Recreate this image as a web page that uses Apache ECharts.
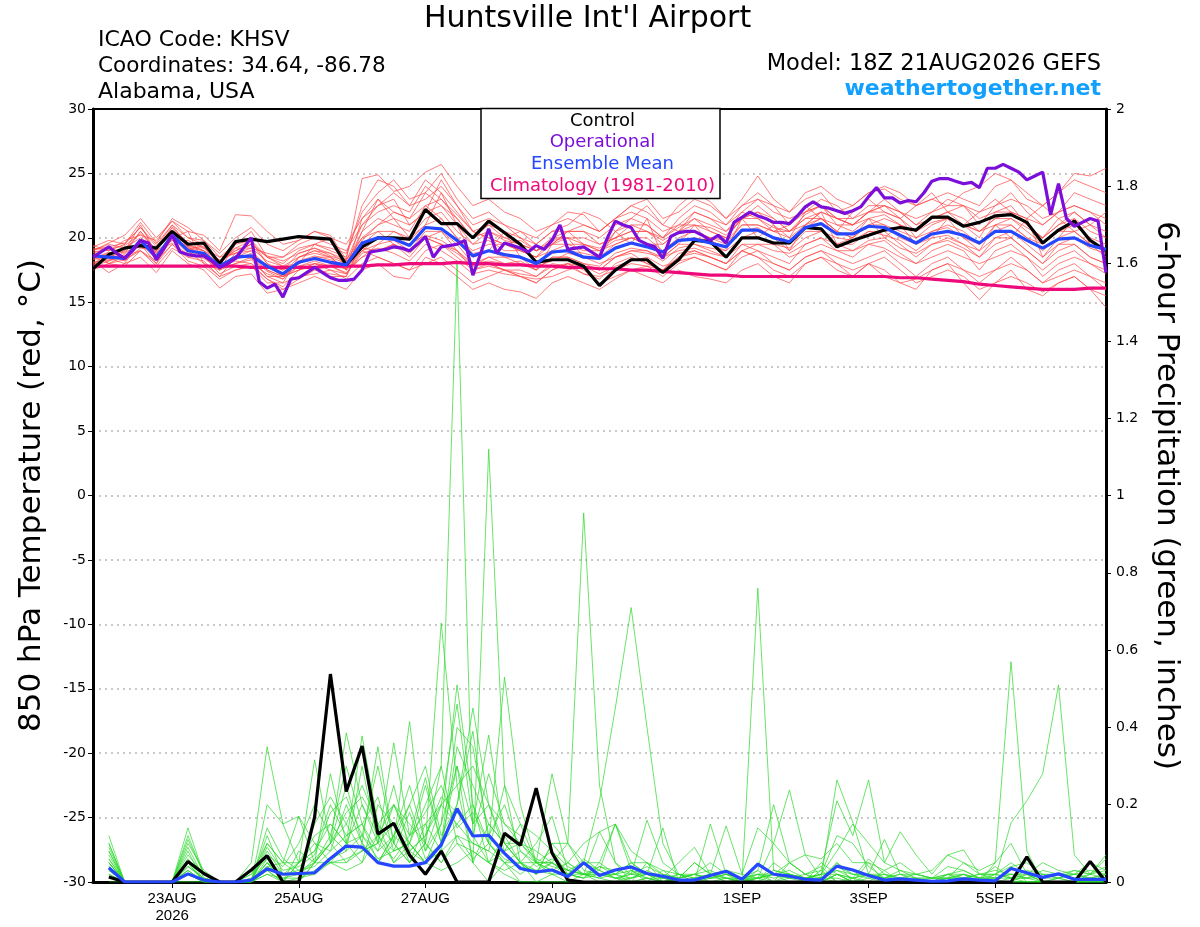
<!DOCTYPE html>
<html><head><meta charset="utf-8">
<script src="https://cdn.jsdelivr.net/npm/echarts@6/dist/echarts.min.js"></script>
<style>html,body{margin:0;padding:0;background:#fff}#c{width:1200px;height:927px}</style>
</head><body><div id="c"></div>
<script>
// ---- axis ticks (hours since 21AUG2026 18Z) ----
const xTickHours = [30, 78, 126, 174, 246, 294, 342];
const xTickLabels = ['23AUG\n2026', '25AUG', '27AUG', '29AUG', '1SEP', '3SEP', '5SEP'];

// ---- 850 hPa temperature, 6-hourly from 21AUG 18Z ----
const controlTemp = [17.6,18.7,19.2,19.4,19.2,20.5,19.5,19.6,18.0,19.7,19.9,19.7,19.9,20.1,20.0,19.9,17.9,19.3,20.0,20.0,19.9,22.2,21.1,21.1,20.0,21.3,20.4,19.5,18.1,18.3,18.3,17.8,16.3,17.5,18.3,18.3,17.3,18.3,19.8,19.7,18.5,20.0,20.0,19.6,19.6,20.8,20.7,19.3,19.8,20.2,20.6,20.8,20.6,21.6,21.6,20.9,21.2,21.7,21.8,21.2,19.6,20.6,21.3,19.8,19.0];
const meanTemp = [18.6,18.5,18.4,19.8,18.5,20.2,19.0,18.8,17.8,18.5,18.6,17.8,17.2,18.1,18.4,18.1,17.9,19.6,20.0,19.9,19.4,20.8,20.7,19.8,18.6,19.0,18.7,18.5,18.0,18.9,19.0,18.5,18.4,19.2,19.6,19.3,18.9,19.8,19.9,19.6,19.3,20.6,20.6,20.0,19.7,20.8,21.1,20.3,20.3,20.9,20.8,20.2,19.6,20.3,20.5,20.2,19.6,20.5,20.5,19.8,19.2,19.9,20.0,19.4,19.1];
const climoTemp = [17.8,17.8,17.8,17.8,17.8,17.8,17.8,17.8,17.8,17.8,17.7,17.7,17.7,17.7,17.7,17.8,17.8,17.8,17.9,17.9,18.0,18.0,18.0,18.1,18.0,18.0,17.9,17.9,17.8,17.8,17.7,17.7,17.6,17.6,17.5,17.5,17.4,17.3,17.2,17.1,17.1,17.0,17.0,17.0,17.0,17.0,17.0,17.0,17.0,17.0,17.0,16.9,16.9,16.8,16.7,16.6,16.4,16.3,16.2,16.1,16.0,16.0,16.0,16.1,16.1];
// operational run, 3-hourly
const operTemp3h = [18.5,18.9,19.3,18.8,18.4,19.0,19.8,19.6,18.3,19.2,
  20.2,18.9,18.7,18.6,18.6,18.2,17.7,18.0,18.4,19.2,
  20.0,16.6,16.1,16.4,15.4,16.8,16.9,17.3,17.7,17.3,
  16.9,16.7,16.7,16.8,17.5,18.9,19.0,19.1,19.3,19.2,
  19.0,19.5,20.1,18.5,19.3,19.4,19.5,19.8,17.1,18.8,
  20.7,18.8,19.6,19.4,19.2,18.9,19.4,19.1,19.8,21.0,
  19.1,19.2,19.3,18.9,18.5,20.0,21.3,21.0,20.8,19.8,
  19.5,19.3,18.4,20.1,20.4,20.5,20.5,20.2,19.8,20.2,
  19.6,21.2,21.6,22.0,21.7,21.5,21.2,21.2,21.1,21.7,
  22.4,22.8,22.4,22.3,22.1,21.9,22.1,22.4,23.2,23.9,
  23.1,23.1,22.7,22.9,22.8,23.5,24.4,24.6,24.6,24.4,
  24.2,24.3,23.9,25.4,25.4,25.7,25.4,25.1,24.5,24.8,
  25.1,21.8,24.2,21.5,20.9,21.2,21.5,21.3,17.3];
// ensemble members (temperature)
const memT01 = [19.0,19.6,20.2,21.5,20.0,21.3,20.5,20.2,19.0,21.8,21.7,20.5,19.5,19.8,20.5,20.2,18.3,24.6,24.9,23.6,24.0,25.1,25.7,24.0,22.5,23.0,22.0,21.5,20.5,21.0,22.0,21.8,20.5,21.5,22.5,22.0,21.0,22.5,23.5,22.8,21.5,23.0,24.8,23.0,22.0,23.0,23.5,22.0,22.5,23.5,23.8,23.0,22.5,23.0,22.5,23.5,24.0,25.0,24.5,23.0,22.5,23.5,25.0,24.8,25.4];
const memT02 = [18.2,17.3,18.0,18.5,17.3,19.0,18.0,17.5,16.1,17.0,17.2,15.7,16.0,16.5,17.0,16.5,16.0,17.5,18.0,17.0,16.8,18.5,18.0,17.0,16.0,16.5,16.0,15.8,15.3,16.5,17.0,16.5,16.0,16.8,17.5,17.0,16.5,17.5,17.0,16.8,16.5,17.5,18.0,17.0,16.5,18.0,18.5,17.5,17.0,18.0,17.5,16.5,16.0,17.5,18.0,16.5,15.2,16.5,17.5,16.0,15.5,16.5,17.0,16.0,14.6];
const memT03 = [18.8,19.2,18.8,20.5,19.0,20.8,19.5,19.0,17.5,18.0,18.5,17.0,16.5,18.5,19.0,18.5,17.5,21.5,22.5,23.0,21.0,22.0,24.5,22.5,20.5,20.0,19.5,19.0,18.5,20.0,20.5,19.5,19.0,20.5,21.0,20.5,19.5,20.5,21.5,20.5,20.0,21.5,22.0,21.0,20.0,22.0,22.5,21.0,21.0,22.0,22.5,21.5,20.0,21.0,21.5,21.0,20.0,22.0,22.5,21.0,20.0,21.5,22.0,21.0,20.5];
const memT04 = [18.5,18.0,17.8,19.0,18.2,19.5,18.5,18.6,17.2,17.8,18.0,16.8,16.2,17.5,17.8,17.0,17.0,19.5,20.5,19.5,18.5,20.0,19.5,18.5,17.5,17.8,17.5,17.0,16.5,17.5,18.0,17.2,16.8,18.0,18.5,18.0,17.5,18.8,19.0,18.5,18.0,19.5,19.0,18.5,18.0,19.5,20.0,19.0,18.5,19.5,19.8,18.8,18.0,19.0,19.5,19.0,17.5,19.0,19.5,18.5,17.5,18.5,19.0,18.0,17.2];
const memT05 = [19.2,19.0,19.5,20.8,19.5,21.0,20.0,19.8,18.5,19.5,19.8,18.5,18.0,19.0,19.5,19.2,18.8,22.0,23.5,24.5,23.0,23.5,22.5,21.0,19.5,20.5,20.0,20.5,19.5,20.5,21.0,22.0,21.5,20.5,21.5,22.5,21.0,20.5,22.0,21.5,20.5,22.0,21.5,20.5,21.0,22.5,21.5,20.5,22.0,23.0,22.0,21.5,22.5,23.5,22.0,21.0,22.0,23.0,22.0,21.5,22.5,21.5,20.5,21.0,22.0];
const memT06 = [17.8,18.2,18.6,19.5,18.0,20.0,19.0,18.0,17.0,18.5,19.0,17.5,17.0,18.0,18.5,18.5,17.5,18.5,19.0,19.5,19.0,20.0,20.5,19.5,18.0,18.5,18.0,18.2,17.5,18.5,18.5,18.0,17.5,18.5,19.0,19.0,18.5,19.5,19.5,19.0,18.5,20.0,20.5,20.0,19.0,20.0,20.5,19.5,19.5,20.5,20.5,19.5,18.5,19.5,20.0,19.5,18.5,20.0,20.0,19.0,18.0,19.5,19.5,18.5,18.0];
const memT07 = [18.0,18.8,18.2,19.2,19.0,19.8,19.8,19.2,18.5,18.8,19.5,18.0,17.5,18.8,19.2,18.8,18.0,20.5,21.5,21.0,20.5,22.5,21.5,20.0,19.0,19.5,19.5,19.0,18.5,19.5,19.5,19.0,19.0,19.8,20.0,19.5,19.5,20.5,20.5,20.0,19.8,21.0,21.0,20.5,20.5,21.5,21.5,20.5,20.0,21.0,21.5,21.0,20.5,21.5,21.5,21.0,20.5,21.0,21.5,20.5,19.5,20.5,21.0,20.0,19.5];
const memT08 = [18.6,18.4,18.0,19.8,18.6,20.3,19.2,18.5,17.8,18.2,18.0,17.2,16.8,17.8,18.2,17.8,17.2,18.8,19.2,18.8,18.2,19.5,19.0,18.2,17.2,17.5,17.2,17.0,16.8,17.0,17.5,17.8,17.2,17.8,18.2,18.5,17.8,18.2,18.5,18.0,17.5,19.0,18.5,17.5,17.0,18.0,18.5,18.0,17.5,18.0,17.0,16.5,16.8,17.5,18.0,17.5,17.0,17.5,18.0,17.5,16.5,17.0,17.5,17.0,16.5];
const memT09 = [19.4,19.0,19.8,20.2,19.8,21.3,20.0,19.5,18.2,19.0,19.5,18.5,18.5,19.5,20.0,19.5,19.0,21.0,22.0,22.5,22.0,24.0,23.0,21.5,20.0,21.0,20.5,20.0,19.5,20.5,20.5,20.5,20.0,21.0,21.5,21.0,20.0,21.5,22.5,22.0,21.0,22.5,23.0,22.0,21.5,22.0,23.0,22.5,21.5,22.5,22.5,22.0,21.5,22.0,22.5,22.5,21.5,22.0,22.0,21.5,21.0,22.0,22.5,22.0,21.5];
const memT10 = [18.3,18.6,18.5,19.6,18.3,20.0,18.8,18.8,17.5,18.5,18.5,17.5,17.0,17.8,18.0,17.5,17.2,19.0,19.5,19.8,19.0,20.5,20.5,19.0,18.0,18.2,18.0,18.0,17.5,18.5,18.5,18.0,17.8,18.8,19.2,19.0,18.2,19.2,19.5,19.2,19.0,20.0,20.0,19.5,19.2,20.5,20.5,20.0,19.8,20.5,20.2,19.8,19.0,20.0,20.2,19.5,19.0,20.0,20.5,19.5,18.5,19.5,20.0,19.2,18.8];
const memT11 = [18.9,18.0,18.6,19.0,17.8,19.2,18.5,18.2,17.0,17.5,17.8,16.5,16.5,17.0,17.2,17.5,16.8,18.0,18.5,18.0,17.5,19.0,19.5,19.0,17.5,18.0,17.5,17.5,17.0,18.0,17.8,17.2,17.0,17.5,18.0,17.8,17.5,18.5,18.8,18.5,18.0,19.0,19.5,19.5,18.5,19.0,19.5,19.0,19.0,19.5,19.2,18.5,18.0,18.5,19.0,18.5,18.0,18.5,19.0,18.5,17.0,18.0,18.5,18.0,17.5];
const memT12 = [19.0,19.5,19.2,20.0,19.2,20.8,19.6,19.3,18.2,19.2,19.2,18.8,18.5,19.2,19.5,19.0,18.5,22.5,24.5,24.0,22.5,23.0,24.0,22.5,21.0,21.5,21.0,20.0,19.0,19.5,20.5,20.5,19.5,20.0,20.5,20.5,20.0,21.0,21.0,20.5,20.0,21.5,22.0,21.5,20.5,21.0,22.0,21.5,21.0,22.0,22.5,22.0,21.0,21.5,22.0,22.5,22.0,22.5,23.0,22.5,21.5,22.0,22.5,22.0,21.0];
const memT13 = [18.4,18.8,19.0,20.5,19.0,20.5,19.0,19.5,18.0,19.2,19.8,18.0,17.2,18.5,18.8,18.5,18.0,20.0,20.5,20.5,20.0,21.5,22.0,20.5,19.5,19.8,19.0,19.0,18.5,19.0,19.5,19.5,19.0,19.5,20.0,20.0,19.0,20.0,20.5,20.0,19.5,21.0,21.0,20.5,20.0,21.0,21.5,21.0,20.5,21.5,21.0,20.5,20.0,20.5,21.0,20.5,19.5,21.0,21.0,20.0,19.5,20.5,20.5,19.5,19.0];
const memT14 = [17.9,18.5,19.0,21.0,18.8,20.0,20.5,18.0,17.5,19.5,20.5,18.5,17.8,18.0,19.5,20.0,17.5,20.5,23.0,21.5,20.0,21.0,23.5,21.0,18.5,19.0,20.5,18.5,17.5,19.5,20.0,18.5,18.5,20.5,19.5,21.5,18.5,19.5,21.0,19.5,19.0,21.5,20.0,21.0,19.0,21.0,22.0,19.5,20.0,21.5,20.0,21.0,19.5,20.0,21.5,20.0,19.0,21.0,20.0,21.5,18.5,20.0,21.5,19.5,18.5];
const memT15 = [18.7,18.2,18.9,19.3,18.9,19.6,18.7,18.4,17.6,18.0,18.3,17.0,17.0,17.5,18.0,17.8,17.6,19.0,20.0,20.0,19.5,20.2,19.8,19.0,17.8,18.5,18.5,18.0,17.8,18.2,18.8,18.5,18.0,18.5,19.0,18.8,18.5,19.0,19.2,18.8,18.5,19.5,19.5,19.0,18.8,19.5,20.0,19.5,19.0,19.8,20.0,19.2,18.8,19.5,19.8,19.2,18.5,19.5,20.0,19.0,18.0,19.0,19.5,18.5,18.0];
const memT16 = [19.1,19.3,19.6,20.8,19.3,21.0,19.4,19.0,18.3,18.8,19.2,18.2,17.8,18.5,19.0,18.8,18.3,20.0,21.0,21.5,21.0,22.0,22.5,21.5,20.0,20.5,19.8,19.5,19.0,20.0,20.0,19.5,19.2,20.0,20.5,20.5,19.8,20.5,21.0,20.8,20.2,21.5,21.5,20.8,20.5,21.5,22.0,21.5,21.0,21.5,21.8,21.0,20.5,21.2,21.5,21.0,20.5,21.5,21.5,20.8,20.0,21.0,21.5,20.5,20.0];
const memT17 = [17.5,18.0,18.3,19.0,18.0,19.5,18.2,17.8,16.8,17.5,17.8,16.8,16.0,16.8,17.5,17.2,17.0,19.8,21.0,22.0,21.5,22.5,23.0,21.8,20.5,20.0,19.5,19.8,19.0,19.5,20.5,21.0,20.5,21.5,22.0,21.5,20.5,21.0,22.0,21.5,21.0,22.0,23.0,22.5,21.0,22.0,22.5,21.5,21.0,22.0,23.0,22.0,21.0,22.0,23.0,22.5,21.0,22.5,23.5,22.0,21.0,22.0,23.5,23.0,22.5];
const memT18 = [18.1,18.3,18.7,19.8,18.5,20.0,19.3,18.6,17.5,18.8,19.0,17.8,17.5,18.0,18.5,18.0,17.8,19.0,18.5,18.0,17.5,18.0,18.5,17.5,16.5,17.0,17.5,17.0,16.5,17.5,18.0,17.5,16.5,17.0,17.5,17.8,17.0,18.0,18.5,18.0,17.5,18.5,19.0,18.0,17.5,18.5,19.0,18.5,18.0,18.5,19.0,18.0,17.0,18.0,18.5,17.5,16.5,17.5,18.5,17.5,16.5,17.5,18.0,17.0,16.0];
const memT19 = [19.3,19.8,19.5,21.2,19.6,21.5,20.8,19.8,18.8,20.0,20.8,19.5,19.0,19.8,20.5,20.0,19.5,21.5,23.0,22.0,21.5,23.5,25.0,23.0,21.5,22.0,21.0,20.5,20.0,21.0,21.5,21.0,20.5,21.5,22.5,23.0,21.5,22.0,23.0,22.5,21.5,22.5,23.5,22.5,22.0,23.5,24.0,23.0,22.5,23.5,24.0,23.5,22.5,23.0,23.5,23.0,22.5,24.0,24.5,23.5,22.5,23.5,24.5,24.0,23.5];
const memT20 = [18.0,18.5,18.3,19.5,18.8,19.8,19.2,19.0,18.0,18.3,18.8,17.8,17.0,17.5,18.0,17.8,17.3,18.5,19.5,20.5,19.8,21.0,21.5,20.0,18.8,19.0,18.5,18.5,18.0,18.8,19.0,18.8,18.5,19.5,20.0,19.5,18.8,19.8,20.0,19.8,19.2,20.5,20.8,20.0,19.5,20.8,21.5,20.5,20.0,21.0,21.0,20.0,19.5,20.5,20.8,20.0,19.5,20.5,21.0,20.0,19.0,20.0,20.5,19.5,19.0];
const memT21 = [18.4,18.9,18.4,19.9,18.4,20.4,19.1,18.7,17.6,18.6,18.4,17.4,16.8,18.2,18.6,18.3,17.8,19.2,19.0,19.5,18.8,20.0,19.5,18.8,17.8,18.0,17.5,17.2,17.0,17.8,18.0,17.8,17.5,18.5,18.8,18.0,17.5,18.5,19.0,18.5,18.0,19.0,18.5,18.0,17.5,18.5,19.0,18.0,17.0,18.0,18.5,17.5,16.5,17.0,17.5,17.0,16.0,16.5,17.0,16.5,15.8,16.5,17.0,16.0,15.5];
const memT22 = [18.9,19.1,19.4,20.3,19.1,20.6,19.3,19.2,18.1,19.0,19.5,18.6,18.2,18.8,19.2,18.6,18.2,21.0,22.5,23.5,22.5,24.5,23.5,22.0,20.5,21.0,20.0,19.5,19.0,19.8,20.0,20.0,19.5,20.0,21.0,21.0,20.0,20.8,21.5,21.0,20.5,21.5,22.5,21.5,20.5,21.8,22.5,21.5,21.5,22.0,22.0,21.5,20.5,21.5,22.0,21.5,20.5,21.5,22.0,21.0,20.0,21.0,22.0,21.0,20.0];
const tempMembers = [memT01,memT02,memT03,memT04,memT05,memT06,memT07,memT08,memT09,memT10,memT11,memT12,memT13,memT14,memT15,memT16,memT17,memT18,memT19,memT20,memT21,memT22];

// ---- 6-hour precipitation (inches), periods ending 22AUG 00Z ... 6SEP 18Z ----
const controlPrecip = [0.013,0,0,0,0,0.053,0.022,0,0,0.031,0.068,0,0,0.168,0.538,0.234,0.352,0.124,0.152,0.07,0.02,0.08,0,0,0,0.126,0.095,0.243,0.075,0.005,0,0,0,0,0,0,0,0,0,0,0,0,0,0,0,0,0,0,0,0,0,0,0,0,0,0,0,0,0.065,0,0,0,0.053,0];
const meanPrecip = [0.037,0,0,0,0,0.021,0.005,0,0,0.005,0.034,0.02,0.022,0.024,0.061,0.093,0.09,0.05,0.041,0.041,0.05,0.096,0.19,0.119,0.121,0.074,0.035,0.026,0.031,0.014,0.05,0.017,0.031,0.039,0.022,0.015,0.005,0.005,0.017,0.028,0.007,0.046,0.02,0.015,0.007,0.005,0.041,0.031,0.017,0.005,0.008,0.005,0.002,0.003,0.008,0.005,0.003,0.035,0.024,0.012,0.021,0.007,0.007,0.007];
const memP01 = [0.10,0,0,0,0,0.05,0,0, 0,0,0.12,0.02,0.05,0.08,0.15,0.10, 0.20,0.12,0.08,0.10,0.20,0.30,1.60,0.12, 0.05,0.02,0,0,0.02,0,0,0, 0,0.03,0,0,0,0,0.02,0, 0,0.03,0,0,0,0,0.05,0, 0,0,0,0,0,0,0,0, 0,0.04,0,0,0,0,0,0];
const memP02 = [0.05,0,0,0,0,0.10,0.03,0, 0,0,0.05,0,0,0.05,0.10,0.25, 0.10,0.05,0.12,0.20,0.08,0.15,0.30,0.05, 1.12,0.25,0.05,0,0,0,0.02,0, 0,0,0,0.03,0,0,0,0, 0,0,0,0.02,0,0,0,0, 0.05,0,0,0,0,0,0,0, 0,0,0.02,0,0,0,0,0];
const memP03 = [0.08,0,0,0,0,0.14,0.02,0, 0,0,0.20,0.15,0.05,0.316,0.10,0.386, 0.20,0.10,0.15,0.05,0.10,0.67,0.25,0.05, 0,0.05,0,0,0,0,0,0, 0,0,0.05,0,0,0,0,0, 0,0,0,0,0,0.03,0,0, 0,0,0,0,0,0.02,0,0, 0,0,0,0,0,0,0,0];
const memP04 = [0.06,0,0,0,0,0.05,0,0, 0,0,0.08,0.02,0.02,0.05,0.28,0.10, 0.378,0.15,0.05,0.10,0.05,0.15,0.51,0.20, 0.10,0.05,0.05,0.02,0.10,0.10,0.955,0.25, 0.05,0,0,0,0,0,0,0, 0,0,0,0.05,0.02,0,0.02,0, 0,0,0,0,0,0,0,0, 0,0,0,0,0,0,0,0];
const memP05 = [0.04,0,0,0,0,0.03,0,0, 0,0,0.06,0,0.05,0.10,0.05,0.05, 0.10,0.35,0.10,0.415,0.08,0.20,0.46,0.15, 0.38,0.10,0.05,0.02,0.05,0.03,0.05,0.21, 0.45,0.71,0.40,0.10,0.02,0,0,0, 0,0,0,0,0,0,0.02,0, 0,0.03,0,0,0,0,0,0, 0,0,0,0,0,0,0,0];
const memP06 = [0.03,0,0,0,0,0,0,0, 0,0,0.04,0.05,0.17,0.05,0.10,0.15, 0.08,0.10,0.36,0.12,0.27,0.10,0.20,0.39, 0.10,0.53,0.20,0.05,0.28,0.10,0.03,0.02, 0.02,0.05,0.02,0.14,0,0,0,0, 0,0.76,0.03,0.02,0,0,0.02,0.01, 0,0,0,0,0,0,0,0, 0,0,0,0,0,0,0,0];
const memP07 = [0.02,0,0,0,0,0.02,0,0, 0,0,0.02,0,0.05,0.08,0.20,0.12, 0.15,0.05,0.10,0.05,0.10,0.30,0.10,0.08, 0.05,0.12,0.05,0.10,0.17,0.03,0.02,0.13, 0.05,0.02,0.16,0.05,0.02,0,0.15,0.02, 0,0.05,0.02,0,0,0.05,0.02,0, 0.02,0,0,0,0,0.02,0.02,0, 0.05,0.57,0.08,0,0,0,0,0.02];
const memP08 = [0,0,0,0,0,0,0,0, 0,0,0.03,0,0,0.05,0.05,0.10, 0.05,0.12,0.05,0.08,0.12,0.20,0.15,0.10, 0.08,0.05,0.02,0.05,0.05,0.02,0.05,0.03, 0.15,0.03,0.02,0.01,0.05,0.09,0.02,0.145, 0.02,0.01,0.10,0.238,0.07,0.01,0.05,0.02, 0.02,0.01,0.02,0.02,0.01,0.02,0.03,0.01, 0.01,0.153,0.21,0.28,0.51,0.07,0.02,0.07];
const memP09 = [0.09,0,0,0,0,0.11,0.02,0, 0,0.05,0.35,0.15,0.17,0.10,0.08,0.20, 0.10,0.05,0.12,0.08,0.05,0.10,0.15,0.20, 0.05,0.03,0.05,0.02,0.10,0.05,0.02,0.02, 0.02,0.05,0.02,0,0.02,0.01,0.02,0.01, 0.01,0.02,0.02,0.05,0.02,0.01,0.264,0.155, 0.02,0.11,0.02,0,0,0,0.02,0, 0,0.01,0.02,0,0,0,0,0];
const memP10 = [0.07,0,0,0,0,0.07,0.02,0, 0,0.02,0.10,0.05,0.05,0.12,0.15,0.10, 0.12,0.08,0.20,0.10,0.25,0.10,0.30,0.15, 0.20,0.10,0.05,0.05,0.05,0.10,0.05,0.05, 0.15,0.05,0.05,0.03,0.02,0.02,0.05,0.02, 0.01,0.03,0.20,0.05,0.02,0.03,0.21,0.12, 0.264,0.05,0.13,0.07,0.02,0.07,0.083,0.02, 0.02,0.05,0.02,0.01,0.02,0.02,0.01,0.02];
const memP11 = [0.05,0,0,0,0,0.03,0,0, 0,0.02,0.06,0.02,0.03,0.05,0.10,0.05, 0.08,0.12,0.20,0.15,0.10,0.05,0.10,0.05, 0.15,0.10,0.10,0.05,0.02,0.05,0.10,0.13, 0.15,0.08,0.05,0.02,0.01,0.05,0.02,0.03, 0.02,0.14,0.10,0.05,0.07,0.06,0.10,0.05, 0.05,0.03,0.05,0.02,0.03,0.07,0.05,0.03, 0.05,0.10,0.02,0.05,0.03,0.02,0.05,0.03];
const memP12 = [0.03,0,0,0,0,0.02,0,0, 0,0,0.03,0,0.01,0.02,0.05,0.03, 0.05,0.20,0.15,0.10,0.05,0.03,0.05,0.08, 0.05,0.08,0.15,0.05,0.03,0.02,0.01,0.05, 0.02,0.03,0.01,0.01,0.02,0.01,0.01,0.02, 0.01,0.01,0.02,0.02,0.01,0.02,0.08,0.15, 0.10,0.05,0.03,0.01,0.01,0.01,0.05,0.02, 0.03,0.02,0.01,0.01,0.02,0.03,0.02,0.04];
const memP13 = [0.10,0,0,0,0,0.04,0.01,0, 0,0,0.10,0.05,0.02,0.15,0.22,0.15, 0.25,0.15,0.20,0.12,0.15,0.20,0.25,0.30, 0.20,0.15,0.10,0.08,0.05,0.02,0.02,0.01, 0.02,0,0.01,0,0.01,0.02,0,0.01, 0,0.02,0,0.01,0.02,0.04,0,0.01, 0.06,0.02,0,0.01,0,0.01,0.02,0.01, 0.04,0.01,0,0,0.01,0,0.01,0];
const memP14 = [0.05,0,0,0,0,0.08,0,0, 0,0,0.05,0,0.08,0.05,0.12,0.30, 0.15,0.22,0.08,0.18,0.06,0.10,0.40,0.35, 0.12,0.20,0.08,0.05,0.08,0.04,0.02,0.03, 0.01,0.01,0.02,0,0.01,0.05,0.02,0, 0.01,0,0.05,0.02,0.01,0.02,0.12,0.10, 0.04,0.01,0.03,0.02,0.01,0.04,0.03,0.01, 0.02,0.04,0.05,0.02,0.02,0.01,0.02,0.06];
const memP15 = [0.12,0,0,0,0,0.06,0,0, 0,0,0.09,0.03,0.04,0.07,0.18,0.22, 0.12,0.30,0.10,0.05,0.15,0.08,0.35,0.25, 0.15,0.10,0.05,0.03,0.02,0.02,0.01,0.04, 0.02,0.01,0.03,0.01,0,0.01,0.02,0.01, 0,0.01,0.03,0.02,0.01,0.01,0.03,0.02, 0.01,0.02,0.01,0,0.01,0.01,0.02,0.01, 0.01,0.02,0.01,0.03,0.02,0.01,0.01,0.02];
const memP16 = [0.04,0,0,0,0,0.09,0.01,0, 0,0.01,0.07,0.04,0.10,0.20,0.12,0.08, 0.30,0.10,0.25,0.08,0.12,0.22,0.18,0.12, 0.28,0.15,0.12,0.05,0.03,0.05,0.02,0.02, 0.01,0.02,0.04,0.02,0.01,0.02,0.01,0.02, 0.01,0.02,0.01,0.02,0.01,0.02,0.02,0.01, 0.02,0.01,0.01,0.02,0.01,0.02,0.01,0.01, 0.01,0.02,0.02,0.01,0.01,0.02,0.01,0.01];
const memP17 = [0.08,0,0,0,0,0.03,0,0, 0,0,0.04,0.01,0.02,0.06,0.10,0.18, 0.22,0.15,0.10,0.20,0.30,0.12,0.20,0.45, 0.20,0.08,0.10,0.06,0.04,0.03,0.02,0.01, 0,0.01,0.02,0.01,0,0,0.01,0.01, 0,0.01,0.02,0.01,0,0.01,0.01,0, 0.01,0,0.01,0,0,0.01,0,0, 0.02,0.01,0.01,0,0.01,0,0.02,0.01];
const memP18 = [0.06,0,0,0,0,0.12,0.02,0, 0,0,0.14,0.06,0.03,0.04,0.08,0.12, 0.15,0.08,0.12,0.25,0.10,0.05,0.12,0.10, 0.08,0.25,0.15,0.12,0.08,0.02,0.06,0.03, 0.01,0.02,0.01,0,0.01,0.02,0.03,0.01, 0.01,0,0.02,0.03,0.01,0.01,0.04,0.02, 0.02,0.02,0.01,0.01,0,0.01,0.01,0.02, 0.01,0.01,0.03,0.02,0.01,0.02,0.03,0.02];
const memP19 = [0.02,0,0,0,0,0.04,0.01,0, 0,0,0.02,0.01,0.01,0.03,0.05,0.06, 0.08,0.10,0.06,0.12,0.18,0.25,0.14,0.18, 0.10,0.06,0.04,0.03,0.05,0.02,0.01,0.02, 0.01,0,0.01,0,0,0.01,0,0, 0,0.01,0,0,0,0.01,0,0, 0,0,0,0,0,0,0,0, 0,0,0,0,0,0,0,0];
const memP20 = [0.05,0,0,0,0,0.02,0,0, 0,0,0.05,0.02,0.02,0.02,0.06,0.08, 0.12,0.06,0.08,0.10,0.05,0.08,0.12,0.06, 0.10,0.05,0.08,0.04,0.06,0.03,0.02,0.04, 0.03,0.02,0.02,0.01,0.01,0.02,0.01,0.02, 0.01,0.01,0.02,0.01,0.01,0.02,0.03,0.01, 0.02,0.01,0.02,0.01,0.01,0.01,0.01,0.02, 0.02,0.01,0.01,0.02,0.01,0.03,0.02,0.03];
const precipMembers = [memP01,memP02,memP03,memP04,memP05,memP06,memP07,memP08,memP09,memP10,memP11,memP12,memP13,memP14,memP15,memP16,memP17,memP18,memP19,memP20];

// ---- build chart ----
const FONT = "'DejaVu Sans', 'Liberation Sans', sans-serif";
const FONT_X = "'Liberation Sans', Arial, sans-serif";
const six = arr => arr.map((v, i) => [i * 6, v]);
const three = arr => arr.map((v, i) => [i * 3, v]);
const sixP = arr => arr.map((v, i) => [(i + 1) * 6, v]);

const C_BLACK = '#000000', C_OPER = '#7b0fd9', C_MEAN = '#2447ff', C_CLIMO = '#ee0a7b';
const C_RED = '#ff4545', C_GREEN = '#2ad82a';

function line(name, data, color, width, yIdx, z) {
  return { name, type: 'line', data, yAxisIndex: yIdx, showSymbol: false, symbol: 'none',
    lineStyle: { color, width }, itemStyle: { color }, silent: true, z: z || 2,
    emphasis: { disabled: true }, animation: false };
}

const series = [];
tempMembers.forEach(m => series.push(line(undefined, six(m), C_RED, 0.7, 0, 2)));
precipMembers.forEach(m => series.push(line(undefined, sixP(m), C_GREEN, 0.7, 1, 2)));
series.push(line('Climatology (1981-2010)', six(climoTemp), C_CLIMO, 3.2, 0, 3));
series.push(line('Control', six(controlTemp), C_BLACK, 3.2, 0, 3));
series.push(line('Ensemble Mean', six(meanTemp), C_MEAN, 3.2, 0, 3));
series.push(line('Operational', three(operTemp3h), C_OPER, 3.2, 0, 3));
series.push(line('Control', sixP(controlPrecip), C_BLACK, 3.2, 1, 3));
series.push(line('Ensemble Mean', sixP(meanPrecip), C_MEAN, 3.2, 1, 3));

const legendItems = [
  ['Control', C_BLACK, 111], ['Operational', C_OPER, 132],
  ['Ensemble Mean', C_MEAN, 154], ['Climatology (1981-2010)', C_CLIMO, 176]
];
const legends = legendItems.map(([n, c, t]) => ({
  data: [{ name: n, textStyle: { color: c } }], icon: 'none', itemWidth: 0, itemHeight: 20,
  left: 'center', top: t, padding: 0, selectedMode: false, z: 20,
  textStyle: { fontSize: 18, fontFamily: FONT, color: c }
}));

const chart = echarts.init(document.getElementById('c'), null, { renderer: 'canvas' });
chart.setOption({
  backgroundColor: '#ffffff',
  animation: false,
  title: { text: "Huntsville Int'l Airport", left: 424, top: 4, padding: 0,
    textStyle: { fontSize: 30, fontWeight: 'normal', color: '#000', fontFamily: FONT } },
  legend: legends,
  grid: { left: 93, right: 94, top: 109, bottom: 45, show: true, borderColor: '#000', borderWidth: 2,
    containLabel: false, outerBoundsMode: 'none' },
  xAxis: { type: 'value', min: 0, max: 384,
    axisLine: { onZero: false, lineStyle: { color: '#000', width: 3 } },
    splitLine: { show: false },
    axisTick: { customValues: xTickHours, length: 6, lineStyle: { color: '#000', width: 1 } },
    axisLabel: { customValues: xTickHours, color: '#000', fontSize: 15, fontFamily: FONT_X, margin: 8, lineHeight: 17,
      formatter: v => xTickLabels[xTickHours.indexOf(v)] || '' } },
  yAxis: [
    { type: 'value', position: 'left', min: -30, max: 30, interval: 5,
      name: '850 hPa Temperature (red, °C)', nameLocation: 'middle', nameGap: 46,
      nameTextStyle: { fontSize: 31, color: '#000', fontFamily: FONT },
      axisLine: { show: true, onZero: false, lineStyle: { color: '#000', width: 3 } },
      axisTick: { show: true, length: 5, lineStyle: { color: '#000', width: 1 } },
      axisLabel: { color: '#000', fontSize: 14, fontFamily: FONT, margin: 7 },
      splitLine: { show: true, showMinLine: false, showMaxLine: false,
        lineStyle: { color: '#b8b8b8', width: 1.5, type: [2, 4] } } },
    { type: 'value', position: 'right', min: 0, max: 2, interval: 0.2,
      name: '6-hour Precipitation (green, inches)', nameLocation: 'middle', nameGap: 45, nameRotate: -90,
      nameTextStyle: { fontSize: 31, color: '#000', fontFamily: FONT },
      axisLine: { show: true, onZero: false, lineStyle: { color: '#000', width: 3 } },
      axisTick: { show: true, length: 5, lineStyle: { color: '#000', width: 1 } },
      axisLabel: { color: '#000', fontSize: 14, fontFamily: FONT, margin: 10 },
      splitLine: { show: false } }
  ],
  graphic: [
    { type: 'rect', z: 10, shape: { x: 481, y: 108.5, width: 239, height: 90 },
      style: { fill: '#fff', stroke: '#000', lineWidth: 1.5 } },
    { type: 'text', x: 98, y: 40, style: { text: 'ICAO Code: KHSV', font: '22px ' + FONT, fill: '#000', textVerticalAlign: 'middle' } },
    { type: 'text', x: 98, y: 66, style: { text: 'Coordinates: 34.64, -86.78', font: '21.5px ' + FONT, fill: '#000', textVerticalAlign: 'middle' } },
    { type: 'text', x: 98, y: 92, style: { text: 'Alabama, USA', font: '22px ' + FONT, fill: '#000', textVerticalAlign: 'middle' } },
    { type: 'text', x: 1101, y: 64, style: { text: 'Model: 18Z 21AUG2026 GEFS', font: '22.5px ' + FONT, fill: '#000', textAlign: 'right', textVerticalAlign: 'middle' } },
    { type: 'text', x: 1101, y: 89, style: { text: 'weathertogether.net', font: 'bold 22px ' + FONT, fill: '#12a0ff', textAlign: 'right', textVerticalAlign: 'middle' } }
  ],
  series
});
</script>
</body></html>
